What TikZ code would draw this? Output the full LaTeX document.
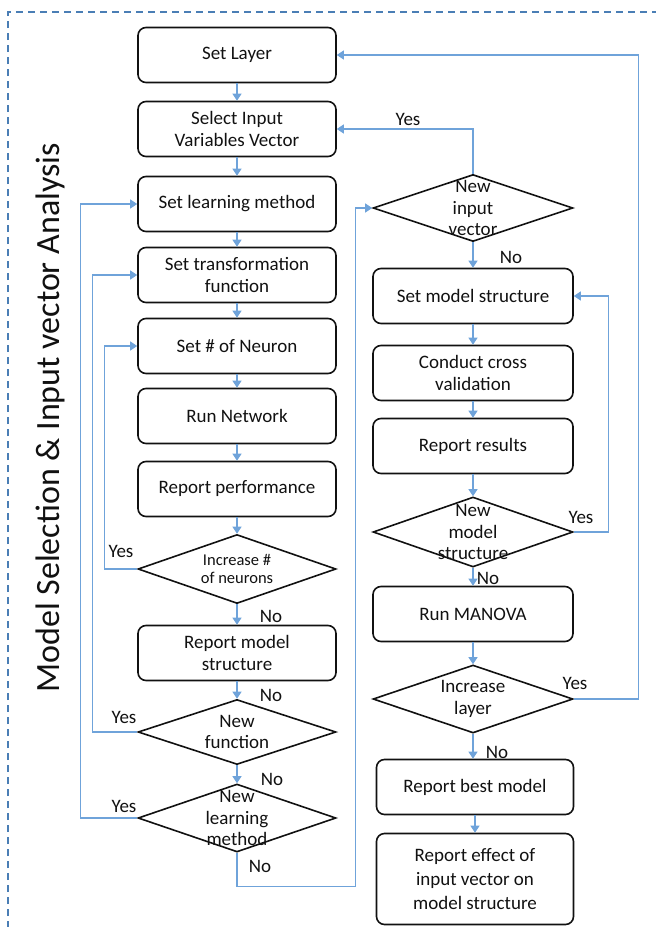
\documentclass[tikz,border=0pt]{standalone}
\usepackage{fontspec}
\setmainfont{Carlito}
\usetikzlibrary{shapes.geometric,arrows.meta,calc}
\definecolor{ink}{HTML}{111111}
\definecolor{flow}{HTML}{6FA3DA}
\definecolor{frame}{HTML}{4A7EB5}

\begin{document}
\begin{tikzpicture}[
  x=1pt, y=-1pt, color=ink,
  font=\fontsize{19}{22}\selectfont,
  box/.style={draw=ink, rounded corners=8pt, minimum width=198pt,
              minimum height=55pt, align=center, line width=1.6pt, inner sep=2pt},
  tallbox/.style={box, minimum height=91pt, font=\fontsize{19}{24}\selectfont},
  decision/.style={diamond, draw=ink, line width=1.6pt, minimum width=198pt,
              minimum height=69pt, inner sep=0pt},
  dtext/.style={align=center, inner sep=0pt, font=\fontsize{19}{21.5}\selectfont},
  conn/.style={-{Triangle[width=9pt,length=7pt]}, line width=1.3pt, color=flow},
  lbl/.style={inner sep=0pt, text=ink},
]
\useasboundingbox (0,0) rectangle (656,927);
% frame and title
\draw[frame, line width=1.5pt, dash pattern=on 7pt off 5pt] (8,940) -- (8,12) -- (670,12);
\node[rotate=90, font=\fontsize{34}{40}\selectfont] (title) at (50,418)
  {Model Selection \& Input vector Analysis};

% left column
\node[box] (layer) at (237,55) {Set Layer};
\node[box] (inputvec) at (237,129) {Select Input\\Variables Vector};
\node[box] (learn) at (237,204) {Set learning method};
\node[box] (transf) at (237,275) {Set transformation\\function};
\node[box] (neuron) at (237,346) {Set \# of Neuron};
\node[box] (runnet) at (237,416) {Run Network};
\node[box] (perf) at (237,489) {Report performance};
\node[decision, label={[dtext, font=\fontsize{16.5}{18.5}\selectfont]center:Increase \#\\of neurons}]
  (incneuron) at (237,569) {};
\node[box] (reportstruct) at (237,653) {Report model\\structure};
\node[decision, minimum height=65pt, label={[dtext]center:New\\function}] (newfun) at (237,732) {};
\node[decision, minimum height=68pt, label={[dtext]center:New\\learning\\method}] (newlearn) at (237,818) {};

% right column
\node[decision, minimum width=200pt, minimum height=67pt, label={[dtext]center:New\\input\\vector}]
  (newinput) at (473,208) {};
\node[box, minimum width=200pt] (setstruct) at (473,296) {Set model structure};
\node[box, minimum width=200pt] (crossval) at (473,373) {Conduct cross\\validation};
\node[box, minimum width=200pt] (results) at (473,446) {Report results};
\node[decision, minimum width=200pt, minimum height=70pt, label={[dtext]center:New\\model\\structure}]
  (newstruct) at (473,532) {};
\node[box, minimum width=200pt] (manova) at (473,614) {Run MANOVA};
\node[decision, minimum width=200pt, minimum height=68pt, label={[dtext]center:Increase\\layer}]
  (inclayer) at (473,699) {};
\node[box, minimum width=197pt] (best) at (475,787) {Report best model};
\node[tallbox, minimum width=197pt] (effect) at (475,879) {Report effect of\\input vector on\\model structure};

% straight flow
\draw[conn] (layer) -- (inputvec);
\draw[conn] (inputvec) -- (learn);
\draw[conn] (learn) -- (transf);
\draw[conn] (transf) -- (neuron);
\draw[conn] (neuron) -- (runnet);
\draw[conn] (runnet) -- (perf);
\draw[conn] (perf) -- (incneuron);
\draw[conn] (incneuron) -- (reportstruct);
\draw[conn] (reportstruct) -- (newfun);
\draw[conn] (newfun) -- (newlearn);
\draw[conn] (newinput) -- (setstruct);
\draw[conn] (setstruct) -- (crossval);
\draw[conn] (crossval) -- (results);
\draw[conn] (results) -- (newstruct);
\draw[conn] (newstruct) -- (manova);
\draw[conn] (manova) -- (inclayer);
\draw[conn] (inclayer.south) -- (inclayer.south |- best.north);
\draw[conn] (best.south) -- (best.south |- effect.north);

% loops back
\draw[conn] (incneuron.west) -- ++(-33,0) |- (neuron.west);
\draw[conn] (newfun.west) -- ++(-45,0) |- (transf.west);
\draw[conn] (newlearn.west) -- ++(-57,0) |- (learn.west);
\draw[conn] (newlearn.south) -- ++(0,34) -| ($(newinput.west)+(-17,0)$) -- (newinput.west);
\draw[conn] (newinput.north) |- (inputvec.east);
\draw[conn] (newstruct.east) -- ++(35,0) |- (setstruct.east);
\draw[conn] (inclayer.east) -- ++(65,0) |- (layer.east);

% yes / no
\node[lbl] (y1) at (408,119) {Yes};
\node[lbl] (n1) at (511,257) {No};
\node[lbl] (y2) at (581,517) {Yes};
\node[lbl] (n2) at (488,578) {No};
\node[lbl] (y3) at (575,683) {Yes};
\node[lbl] (n3) at (497,752) {No};
\node[lbl] (y4) at (121,551) {Yes};
\node[lbl] (n4) at (271,616) {No};
\node[lbl] (n5) at (271,695) {No};
\node[lbl] (y5) at (124,717) {Yes};
\node[lbl] (n6) at (272,779) {No};
\node[lbl] (y6) at (124,806) {Yes};
\node[lbl] (n7) at (260,866) {No};
\end{tikzpicture}
\end{document}
